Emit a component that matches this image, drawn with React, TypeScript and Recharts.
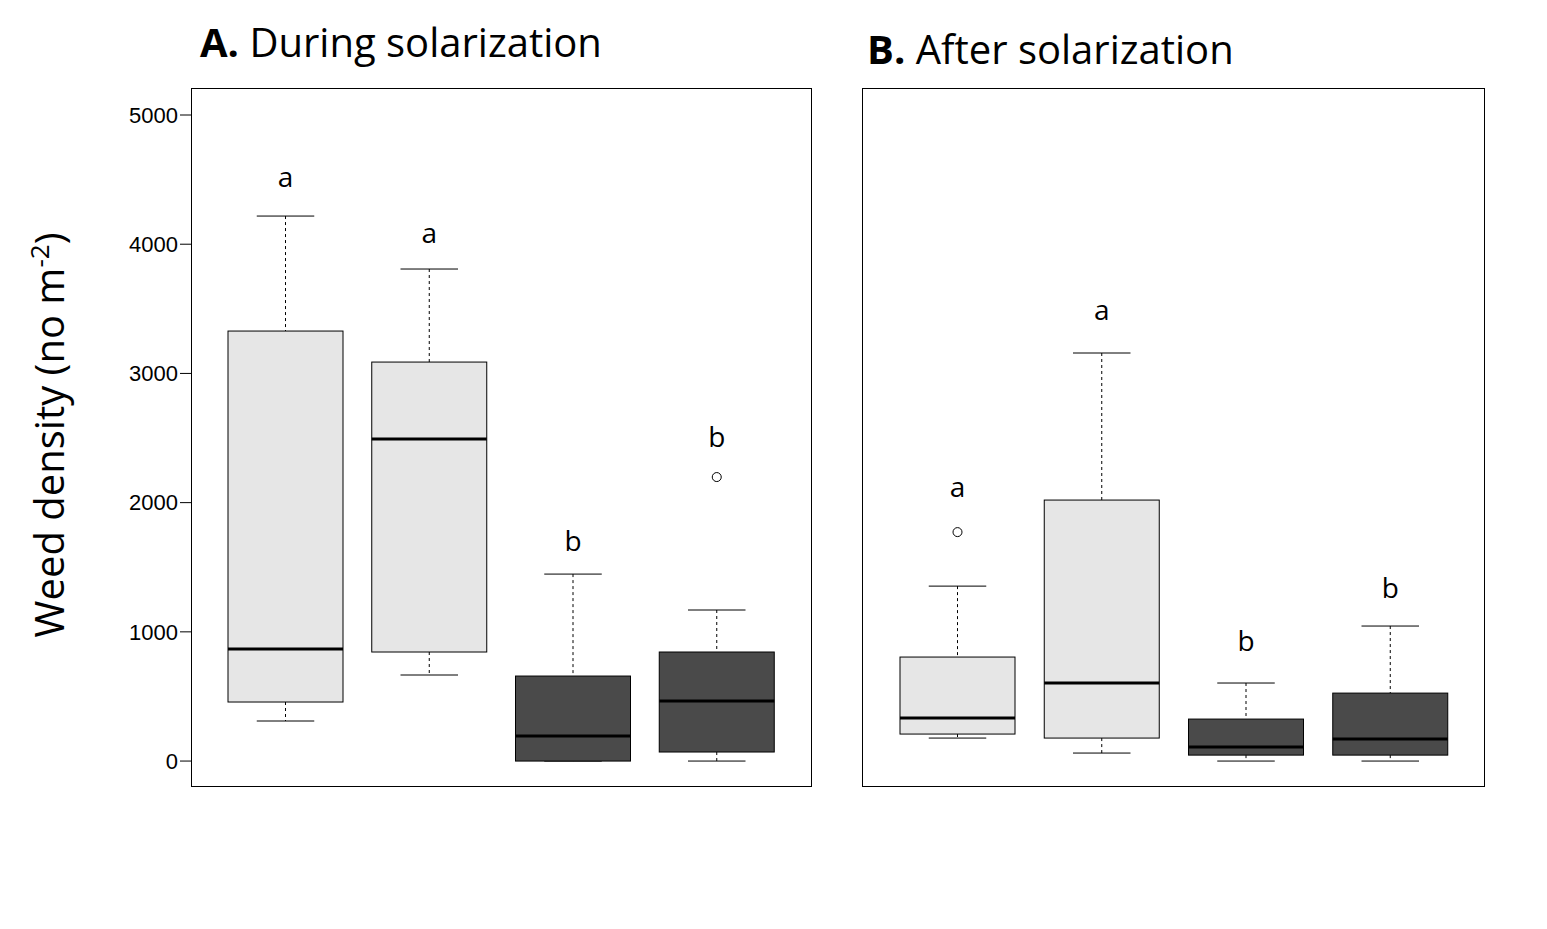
import React from 'react'
import { ComposedChart, Bar, XAxis, YAxis } from 'recharts'

const categories = ['Tilled\ncontrol', 'Tilled +\nrolled\ncontrol', 'Tilled +\nsolarized', 'Tilled +\nrolled +\nsolarized']
const dark = [false, false, true, true]
const duringStats = [
  [310, 457, 867, 3328, 4218],
  [666, 844, 2492, 3088, 3808],
  [0, 0, 193, 658, 1447],
  [0, 70, 464, 844, 1169],
]
const duringOutliers = [null, null, null, 2198]
const duringLetters = ['a', 'a', 'b', 'b']
const duringLetterY = [4497, 4071, 1687, 2492]
const afterStats = [
  [178, 209, 333, 805, 1354],
  [62, 178, 604, 2020, 3158],
  [0, 46, 108, 325, 604],
  [0, 46, 170, 526, 1045],
]
const afterOutliers = [1772, null, null, null]
const afterLetters = ['a', 'a', 'b', 'b']
const afterLetterY = [2105, 3475, 913, 1323]
const yTicks = [0, 1000, 2000, 3000, 4000, 5000]

const build = (stats: number[][], outl: (number | null)[], letters: string[], ly: number[]) =>
  categories.map((c, i) => ({
    name: c, min: stats[i][0], q1: stats[i][1], med: stats[i][2], q3: stats[i][3], max: stats[i][4],
    out: outl[i], letter: letters[i], ly: ly[i], dark: dark[i],
  }))

const BoxShape = (p: any) => {
  const { x, y, width, height, payload: d } = p
  const k = height / (d.q3 - d.q1)
  const yOf = (v: number) => y + (d.q3 - v) * k
  const cx = x + width / 2
  const cap = width / 4
  return (
    <g>
      <line x1={cx} x2={cx} y1={yOf(d.max)} y2={yOf(d.q3)} stroke="#000" strokeDasharray="3 3" />
      <line x1={cx} x2={cx} y1={yOf(d.q1)} y2={yOf(d.min)} stroke="#000" strokeDasharray="3 3" />
      <line x1={cx - cap} x2={cx + cap} y1={yOf(d.max)} y2={yOf(d.max)} stroke="#000" />
      <line x1={cx - cap} x2={cx + cap} y1={yOf(d.min)} y2={yOf(d.min)} stroke="#000" />
      <rect x={x} y={y} width={width} height={height} fill={d.dark ? '#4a4a4a' : '#e6e6e6'} stroke="#000" />
      <line x1={x} x2={x + width} y1={yOf(d.med)} y2={yOf(d.med)} stroke="#000" strokeWidth={3} />
      {d.out != null && <circle cx={cx} cy={yOf(d.out)} r={4.5} fill="#fff" stroke="#000" />}
      <text x={cx} y={yOf(d.ly)} textAnchor="middle" dominantBaseline="middle" fontSize={28} fontFamily="Open Sans">{d.letter}</text>
    </g>
  )
}

const XTick = (p: any) => {
  const lines = String(p.payload.value).split('\n')
  return (
    <text x={p.x} y={842} textAnchor="middle" fontSize={25} fontFamily="Open Sans" fill="#000">
      {lines.map((l, i) => <tspan key={i} x={p.x} dy={i === 0 ? 0 : 36}>{l}</tspan>)}
    </text>
  )
}

const Panel = ({ data, showY }: { data: any[]; showY: boolean }) => (
  <ComposedChart width={showY ? 830 : 700} height={929} data={data}
    margin={{ top: 88, left: showY ? 132 : 60, right: 19, bottom: 143 }} barSize={115}>
    <XAxis dataKey="name" height={0} padding={{ left: 22, right: 22 }} interval={0} tick={<XTick />}
      axisLine={false} tickLine={{ stroke: '#000' }} tickSize={11} />
    <YAxis domain={[-193, 5209]} ticks={yTicks} width={60} axisLine={false} hide={!showY}
      tick={{ fontSize: 22, fill: '#000', fontFamily: 'Liberation Sans' }} tickLine={{ stroke: '#000' }} tickSize={12} />
    <Bar dataKey={(d: any) => [d.q1, d.q3]} shape={<BoxShape />} isAnimationActive={false} />
  </ComposedChart>
)

export default function App() {
  const frame = { position: 'absolute' as const, border: '1.5px solid #000', top: 88, height: 699, boxSizing: 'border-box' as const, pointerEvents: 'none' as const }
  return (
    <div style={{ position: 'absolute', left: 0, top: 0, width: 1547, height: 929, background: '#fff', fontFamily: 'Open Sans' }}>
      <div style={{ position: 'absolute', left: 0, top: 0 }}>
        <Panel data={build(duringStats, duringOutliers, duringLetters, duringLetterY)} showY />
      </div>
      <div style={{ position: 'absolute', left: 803, top: 0 }}>
        <Panel data={build(afterStats, afterOutliers, afterLetters, afterLetterY)} showY={false} />
      </div>
      <div style={{ ...frame, left: 191, width: 621 }} />
      <div style={{ ...frame, left: 862, width: 623 }} />
      <div style={{ position: 'absolute', left: 200, top: 14, fontSize: 40 }}><b>A.</b> During solarization</div>
      <div style={{ position: 'absolute', left: 867, top: 21, fontSize: 40 }}><b>B.</b> After solarization</div>
      <div style={{ position: 'absolute', left: 48, top: 435, fontSize: 40, transform: 'translate(-50%,-50%) rotate(-90deg)', whiteSpace: 'nowrap' }}>
        Weed density (no m<sup style={{ fontSize: 26 }}>-2</sup>)
      </div>
    </div>
  )
}
